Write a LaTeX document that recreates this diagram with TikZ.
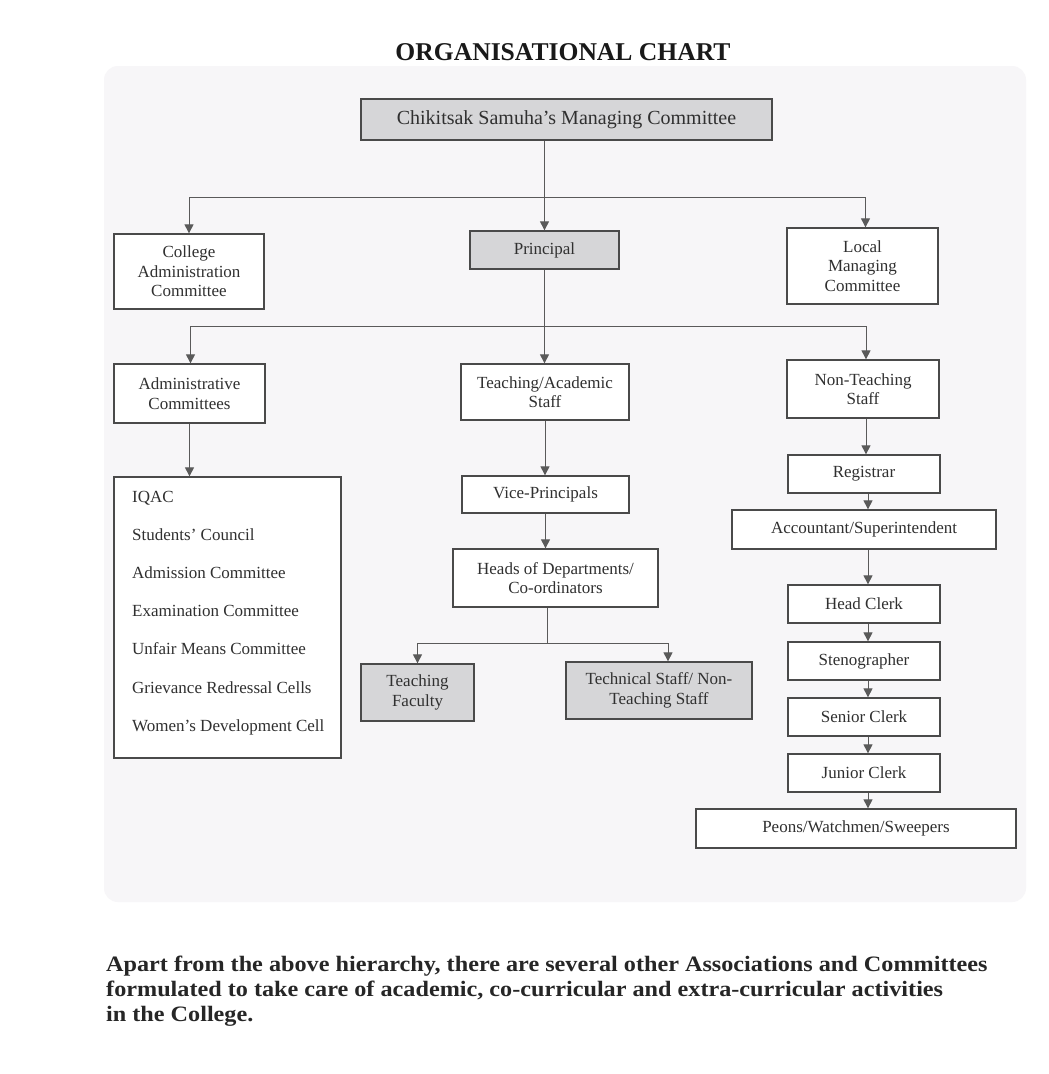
\documentclass[tikz,border=0pt]{standalone}
\usepackage{fontspec}
\setmainfont{Liberation Serif}
\newfontfamily\footfont{Liberation Serif}[FakeStretch=1.1]
\usetikzlibrary{arrows.meta,calc}
\definecolor{boxline}{HTML}{4A4A4A}
\definecolor{connline}{HTML}{5A5A5A}
\definecolor{shade}{HTML}{D6D6D8}
\definecolor{txt}{HTML}{303030}
\definecolor{panel}{HTML}{F7F6F8}
\tikzset{
  box/.style={draw=boxline, line width=1.3pt, fill=white, inner sep=0pt, align=center,
    text=txt, font=\fontsize{17}{19.5}\selectfont},
  shadedbox/.style={box, fill=shade},
  conn/.style={draw=connline, line width=1pt},
  arr/.style={conn, -{Triangle[width=9pt,length=9pt,fill=connline]}},
  item/.style={anchor=base west, text=txt, font=\fontsize{17}{20}\selectfont, inner sep=0pt},
}
\newcommand{\bx}[7]{% name, style, x1, x2, y1, y2, text
  \node[#2, minimum width={(#4-#3)*1pt}, minimum height={(#6-#5)*1pt}] (#1) at ({(#3+#4)/2},{(#5+#6)/2}) {#7};}
\begin{document}
\begin{tikzpicture}[x=1pt,y=-1pt]
\useasboundingbox (0,0) rectangle (1049,1074);
\fill[white] (0,0) rectangle (1049,1074);
\fill[panel, rounded corners=14pt] (104,66) rectangle (1026,902);

\node[anchor=base, font=\bfseries\fontsize{25.6}{28}\selectfont, text=black!90, inner sep=0pt] (title) at (563,60) {ORGANISATIONAL CHART};

% boxes
\bx{top}{shadedbox}{361}{772}{99}{140}{\fontsize{20}{23}\selectfont Chikitsak Samuha’s Managing Committee}
\bx{cac}{box}{114}{264}{234}{309}{College\\Administration\\Committee}
\bx{principal}{shadedbox}{470}{619}{231}{269}{Principal}
\bx{lmc}{box}{787}{938}{228}{304}{Local\\Managing\\Committee}
\bx{adm}{box}{114}{265}{364}{423}{Administrative\\Committees}
\bx{tas}{box}{461}{629}{364}{420}{Teaching/Academic\\Staff}
\bx{nts}{box}{787}{939}{360}{418}{Non-Teaching\\Staff}
\bx{list}{box}{114}{341}{477}{758}{}
\bx{vp}{box}{462}{629}{476}{513}{Vice-Principals}
\bx{hod}{box}{453}{658}{549}{607}{Heads of Departments/\\Co-ordinators}
\bx{tf}{shadedbox}{361}{474}{664}{721}{Teaching\\Faculty}
\bx{tech}{shadedbox}{566}{752}{662}{719}{Technical Staff/ Non-\\Teaching Staff}
\bx{reg}{box}{788}{940}{455}{493}{Registrar}
\bx{acc}{box}{732}{996}{510}{549}{Accountant/Superintendent}
\bx{hc}{box}{788}{940}{585}{623}{Head Clerk}
\bx{steno}{box}{788}{940}{642}{680}{Stenographer}
\bx{sc}{box}{788}{940}{698}{736}{Senior Clerk}
\bx{jc}{box}{788}{940}{754}{792}{Junior Clerk}
\bx{peons}{box}{696}{1016}{809}{848}{Peons/Watchmen/Sweepers}

% list items
\node[item] (i1) at (132,502) {IQAC};
\node[item] (i2) at (132,540) {Students’ Council};
\node[item] (i3) at (132,578) {Admission Committee};
\node[item] (i4) at (132,616) {Examination Committee};
\node[item] (i5) at (132,654) {Unfair Means Committee};
\node[item] (i6) at (132,693) {Grievance Redressal Cells};
\node[item] (i7) at (132,731) {Women’s Development Cell};

% connectors
\coordinate (j1) at (principal.north |- 0,197);
\draw[arr] (top.south -| principal.north) -- (principal.north);
\draw[arr] (j1) -| (cac.north);
\draw[arr] (j1) -| ([xshift=3pt]lmc.north);

\coordinate (j2) at (principal.south |- 0,326);
\draw[arr] (principal.south) -- (tas.north -| principal.south);
\draw[arr] (j2) -| ([xshift=1pt]adm.north);
\draw[arr] (j2) -| ([xshift=3pt]nts.north);

\draw[arr] (adm.south) -- (adm.south |- list.north);
\draw[arr] (tas.south) -- (tas.south |- vp.north);
\draw[arr] (vp.south) -- (vp.south |- hod.north);

\coordinate (j3) at ([xshift=-8pt]hod.south |- 0,643);
\draw[conn] ([xshift=-8pt]hod.south) -- (j3);
\draw[arr] (j3) -| (tf.north);
\draw[arr] (j3) -| ([xshift=9pt]tech.north);

\draw[arr] ([xshift=3pt]nts.south) -- ([xshift=3pt]nts.south |- reg.north);
\draw[arr] ([xshift=4pt]reg.south) -- ([xshift=4pt]reg.south |- acc.north);
\draw[arr] ([xshift=4pt]acc.south) -- ([xshift=4pt]acc.south |- hc.north);
\draw[arr] ([xshift=4pt]hc.south) -- ([xshift=4pt]hc.south |- steno.north);
\draw[arr] ([xshift=4pt]steno.south) -- ([xshift=4pt]steno.south |- sc.north);
\draw[arr] ([xshift=4pt]sc.south) -- ([xshift=4pt]sc.south |- jc.north);
\draw[arr] ([xshift=4pt]jc.south) -- ([xshift=4pt]jc.south |- peons.north);

% footer text (anchor at baseline of the last line)
\node[anchor=base west, align=left, inner sep=0pt, text=black!85,
  font=\footfont\bfseries\fontsize{22}{25}\selectfont] (foot) at (106,1021)
  {Apart from the above hierarchy, there are several other Associations and Committees\\
   formulated to take care of academic, co-curricular and extra-curricular activities\\
   in the College.};
\end{tikzpicture}
\end{document}
